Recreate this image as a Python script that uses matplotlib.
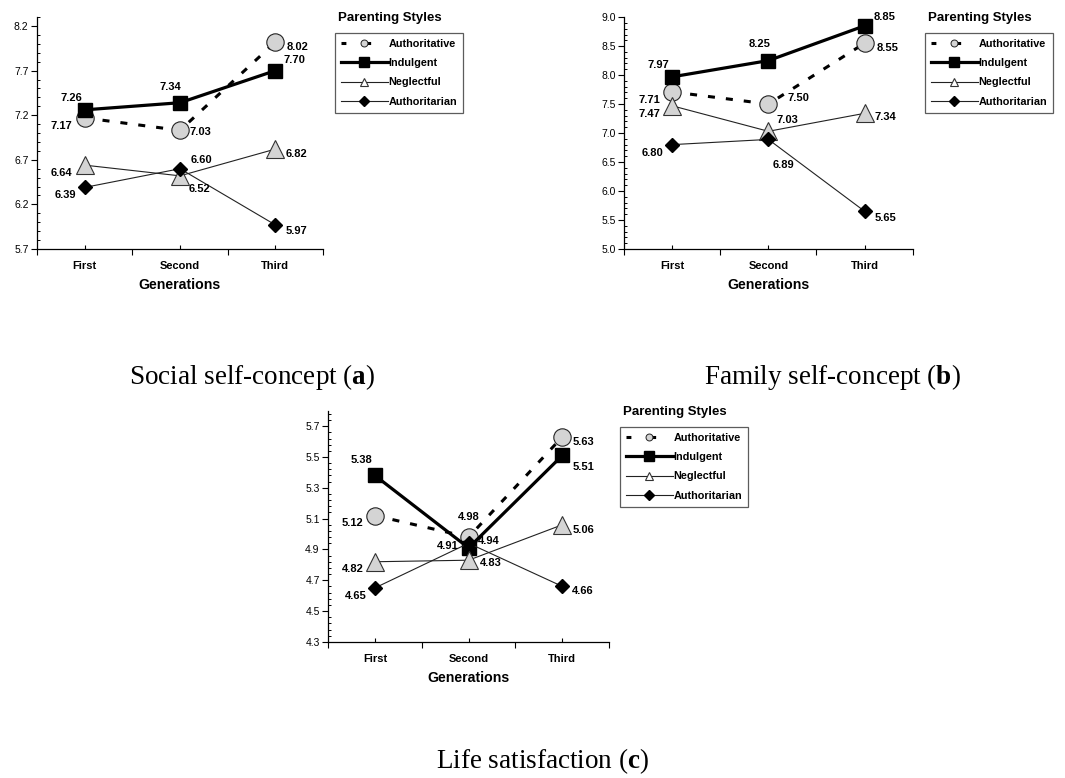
import numpy as np
import matplotlib
matplotlib.use('Agg')
import matplotlib.pyplot as plt
from matplotlib.lines import Line2D
from matplotlib.ticker import FixedLocator, NullFormatter, FixedFormatter

plt.rcParams['font.family'] = ['Liberation Sans', 'DejaVu Sans']
plt.rcParams['mathtext.fontset'] = 'custom'
plt.rcParams['mathtext.rm'] = 'Liberation Serif'
plt.rcParams['mathtext.bf'] = 'Liberation Serif:bold'

generations = ['First', 'Second', 'Third']
styles = ['Authoritative', 'Indulgent', 'Neglectful', 'Authoritarian']

# social self-concept (a)
social_authoritative = [7.17, 7.03, 8.02]
social_indulgent = [7.26, 7.34, 7.70]
social_neglectful = [6.64, 6.52, 6.82]
social_authoritarian = [6.39, 6.60, 5.97]

# family self-concept (b)
family_authoritative = [7.71, 7.50, 8.55]
family_indulgent = [7.97, 8.25, 8.85]
family_neglectful = [7.47, 7.03, 7.34]
family_authoritarian = [6.80, 6.89, 5.65]

# life satisfaction (c)
life_authoritative = [5.12, 4.98, 5.63]
life_indulgent = [5.38, 4.91, 5.51]
life_neglectful = [4.82, 4.83, 5.06]
life_authoritarian = [4.65, 4.94, 4.66]

# line / marker look for every parenting style
sty = {
    'Authoritative': dict(color='black', lw=2.2, dashes=(2.3, 3.6), marker='o', ms=12.5,
                          mfc='#d4d4d4', mec='#222222', mew=0.8),
    'Indulgent': dict(color='black', lw=2.3, ls='-', marker='s', ms=10,
                      mfc='black', mec='black'),
    'Neglectful': dict(color='#222222', lw=0.8, ls='-', marker='^', ms=12.5,
                       mfc='#d4d4d4', mec='#333333', mew=0.8),
    'Authoritarian': dict(color='#222222', lw=0.8, ls='-', marker='D', ms=7,
                          mfc='black', mec='black'),
}
leg_sty = {
    'Authoritative': dict(color='black', lw=2.2, dashes=(1.6, 6.5), marker='o', ms=5,
                          mfc='#d4d4d4', mec='#222222', mew=0.7),
    'Indulgent': dict(color='black', lw=2.3, ls='-', marker='s', ms=7, mfc='black', mec='black'),
    'Neglectful': dict(color='#222222', lw=0.8, ls='-', marker='^', ms=6,
                       mfc='white', mec='#333333', mew=0.8),
    'Authoritarian': dict(color='#222222', lw=0.8, ls='-', marker='D', ms=5,
                          mfc='black', mec='black'),
}

# label offsets (pixels) per point: [style][generation]
offs_a = {
    'Authoritative': [(-23, -8), (20, -2), (22, -5)],
    'Indulgent': [(-13, 12), (-10, 16), (19, 11)],
    'Neglectful': [(-23, -8), (20, -13), (21, -5)],
    'Authoritarian': [(-19, -8), (21, 9), (21, -6)],
}
offs_b = {
    'Authoritative': [(-23, -8), (30, 6), (23, -5)],
    'Indulgent': [(-14, 12), (-9, 17), (20, 9)],
    'Neglectful': [(-23, -8), (19, 11), (21, -4)],
    'Authoritarian': [(-20, -8), (15, -26), (21, -7)],
}
offs_c = {
    'Authoritative': [(-22, -7), (0, 20), (21, -5)],
    'Indulgent': [(-13, 15), (-21, 2), (21, -12)],
    'Neglectful': [(-22, -7), (22, -3), (21, -5)],
    'Authoritarian': [(-19, -8), (20, 2), (20, -5)],
}

fig = plt.figure(figsize=(10.65, 7.78), dpi=100)


def panel(rect, series, offs, ylim, major, leg_xy):
    ax = fig.add_axes(rect)
    x = np.arange(len(generations))
    for name, vals in zip(styles, series):
        ax.plot(x, vals, zorder=3, clip_on=False, **sty[name])
        for xi, v, (dx, dy) in zip(x, vals, offs[name]):
            ax.annotate('%.2f' % v, (xi, v), xytext=(dx, dy), textcoords='offset pixels',
                        ha='center', va='center', fontsize=8, fontweight='bold', zorder=5)
    ax.set_xlim(-0.5, 2.5)
    ax.set_ylim(*ylim)
    for s in ['top', 'right']:
        ax.spines[s].set_visible(False)
    ax.spines['left'].set_linewidth(0.9)
    ax.spines['bottom'].set_linewidth(0.9)
    # excel style: ticks start at the axis minimum
    yt = np.arange(ylim[0], ylim[1] + 1e-9, major)
    ym = np.arange(ylim[0], ylim[1] + 1e-9, major / 5)
    ax.yaxis.set_major_locator(FixedLocator(yt))
    ax.yaxis.set_minor_locator(FixedLocator(ym))
    ax.yaxis.set_major_formatter(plt.FormatStrFormatter('%.1f'))
    ax.tick_params(axis='y', which='major', direction='out', length=4, width=0.8,
                   labelsize=7.5, pad=2)
    ax.tick_params(axis='y', which='minor', direction='in', length=2.5, width=0.7)
    ax.xaxis.set_major_locator(FixedLocator([-0.5, 0.5, 1.5, 2.5]))
    ax.xaxis.set_major_formatter(NullFormatter())
    ax.xaxis.set_minor_locator(FixedLocator(x))
    ax.xaxis.set_minor_formatter(FixedFormatter(generations))
    ax.tick_params(axis='x', which='major', direction='out', length=4, width=0.8)
    ax.tick_params(axis='x', which='minor', direction='in', length=3, width=0.8,
                   labelsize=8, pad=9)
    for t in ax.xaxis.get_minorticklabels():
        t.set_fontweight('bold')
    ax.set_xlabel('Generations', fontsize=10.2, fontweight='bold', labelpad=5)

    handles = [Line2D([], [], **leg_sty[n]) for n in styles]
    lx, ly = leg_xy
    fig.text(lx + 0.003, ly + 0.011, 'Parenting Styles', fontsize=9.5, fontweight='bold',
             ha='left', va='bottom')
    leg = ax.legend(handles, styles, loc='upper left', bbox_to_anchor=(lx, ly),
                    bbox_transform=fig.transFigure, frameon=True, fancybox=False,
                    borderaxespad=0, handlelength=4.3, handletextpad=0.1,
                    labelspacing=0.85, borderpad=0.55, prop=dict(size=7.8, weight='bold'))
    leg.get_frame().set_edgecolor('#333333')
    leg.get_frame().set_linewidth(0.9)
    return ax


panel([0.0347, 0.680, 0.2686, 0.298],
      [social_authoritative, social_indulgent, social_neglectful, social_authoritarian],
      offs_a, (5.7, 8.3), 0.5, (335 / 1065, 1 - 33 / 778))
panel([0.586, 0.680, 0.271, 0.298],
      [family_authoritative, family_indulgent, family_neglectful, family_authoritarian],
      offs_b, (5.0, 9.0), 0.5, (925 / 1065, 1 - 33 / 778))
panel([0.308, 0.175, 0.264, 0.297],
      [life_authoritative, life_indulgent, life_neglectful, life_authoritarian],
      offs_c, (4.3, 5.8), 0.2, (620 / 1065, 1 - 427 / 778))

cap = dict(fontsize=19.5, family='Liberation Serif', ha='center', va='baseline')
fig.text(252 / 1065, 1 - 384 / 778, r'Social self-concept ($\mathbf{a}$)', **cap)
fig.text(832 / 1065, 1 - 384 / 778, r'Family self-concept ($\mathbf{b}$)', **cap)
fig.text(543 / 1065, 1 - 768 / 778, r'Life satisfaction ($\mathbf{c}$)', **cap)

fig.savefig('out.png', dpi=100)
